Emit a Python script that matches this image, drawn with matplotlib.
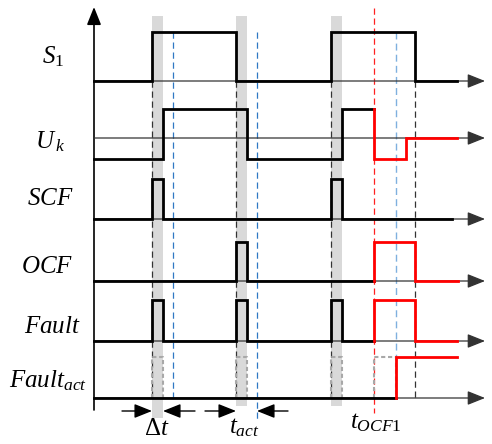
import matplotlib
matplotlib.use("Agg")
import matplotlib.pyplot as plt

plt.rcParams['mathtext.fontset'] = 'custom'
plt.rcParams['mathtext.rm'] = 'Liberation Serif'
plt.rcParams['mathtext.it'] = 'Liberation Serif:italic'
plt.rcParams['mathtext.bf'] = 'Liberation Serif:bold'

# ---- timing (time units along the horizontal axes) ----
s1_t = [0, 58, 142, 237, 321, 363]
s1_v = [0, 1, 0, 1, 0, 0]

uk_t = [0, 69, 153, 248, 280]
uk_v = [-0.72, 1, -0.72, 1, 1]
uk_fault_t = [280, 280, 312, 363]
uk_fault_v = [1, -0.72, 0, 0]

scf_t = [0, 58, 69, 237, 248, 358]
scf_v = [0, 1, 0, 1, 0, 0]

ocf_t = [0, 142, 153, 280]
ocf_v = [0, 1, 0, 0]
ocf_fault_t = [280, 280, 321, 364]
ocf_fault_v = [0, 1, 0, 0]

fault_t = [0, 58, 69, 142, 153, 237, 248, 280]
fault_v = [0, 1, 0, 1, 0, 1, 0, 0]
fault_red_t = [280, 280, 321, 363]
fault_red_v = [0, 1, 0, 0]

fact_t = [0, 302]
fact_v = [0, 0]
fact_red_t = [302, 302, 363]
fact_red_v = [0, 1, 1]

# blanking windows (Delta t) and the delayed-action window
dead_windows = [(58, 69), (142, 153), (237, 248)]
act_windows = [(58, 69), (142, 153), (237, 248), (280, 302)]

t_detect = [79, 163, 302]      # blue markers (end of t_act)
t_edges = [58, 142, 237, 321]  # switching edges
t_ocf1 = 280
t_end = 391                    # tip of the time axes

# channel layout: (baseline, amplitude)
chan = {
    'S1': (81, 49),
    'Uk': (138, 29),
    'SCF': (219, 40),
    'OCF': (281, 39),
    'Fault': (341, 41),
    'Fact': (398, 41),
}
labels = [('S1', r'$S_1$', -41, 63),
          ('Uk', r'$U_{\,k}$', -44, 148),
          ('SCF', r'$SCF$', -44, 205),
          ('OCF', r'$OCF$', -47, 273),
          ('Fault', r'$Fault$', -42, 333),
          ('Fact', r'$Fault_{act}$', -46, 387)]

fig = plt.figure(figsize=(4.92, 4.44), dpi=100)
ax = fig.add_axes([0, 0, 1, 1])
ax.set_xlim(-94, 398)
ax.set_ylim(444, 0)
ax.axis('off')


def ylev(name, v):
    b, a = chan[name]
    return [b - a * x for x in v]


head = '-|>,head_length=0.45,head_width=0.18'

# shaded windows
for i, (a, b) in enumerate(dead_windows):
    ax.axvspan(a, b, ymin=1 - 418 / 444 if i == 0 else 1 - 406 / 444,
               ymax=1 - 16 / 444, color='#d9d9d9', lw=0, zorder=0)

# vertical axis
ax.annotate('', xy=(0, 7), xytext=(0, 410),
            arrowprops=dict(arrowstyle=head, color='black', lw=1.2,
                            mutation_scale=24, shrinkA=0, shrinkB=0))

# horizontal axes
for name, (b, a) in chan.items():
    ax.annotate('', xy=(t_end, b), xytext=(0, b),
                arrowprops=dict(arrowstyle=head, color='#333333', lw=0.9,
                                mutation_scale=24, shrinkA=0, shrinkB=0))

# edge guide lines
for t in t_edges:
    ax.plot([t, t], [81, 398], color='#333333', lw=0.9, ls=(0, (5, 3)), zorder=1)
ax.plot([t_detect[0]] * 2, [32, 400], color='#2f78c4', lw=0.9, ls=(0, (5, 3)), zorder=1)
ax.plot([t_detect[1]] * 2, [32, 420], color='#2f78c4', lw=0.9, ls=(0, (5, 3)), zorder=1)
ax.plot([t_detect[2]] * 2, [32, 398], color='#7fb0df', lw=1.0, ls=(0, (5, 3)), zorder=1)
ax.plot([t_ocf1] * 2, [8, 413], color='#ff2020', lw=0.9, ls=(0, (5, 3)), zorder=1)

# dotted windows on Fault_act
b, a = chan['Fact']
for (x0, x1) in act_windows:
    ax.plot([x0, x0, x1, x1], [b, b - a, b - a, b], color='#a8a8a8', lw=1.5,
            ls=(0, (2, 1.3)), zorder=2)

sig = dict(lw=2.0, drawstyle='steps-post', zorder=4, solid_joinstyle='miter')
ax.plot(s1_t, ylev('S1', s1_v), color='black', **sig)
ax.plot(uk_t, ylev('Uk', uk_v), color='black', **sig)
ax.plot(uk_fault_t, ylev('Uk', uk_fault_v), color='#ff0000', **sig)
ax.plot(scf_t, ylev('SCF', scf_v), color='black', **sig)
ax.plot(ocf_t, ylev('OCF', ocf_v), color='black', **sig)
ax.plot(ocf_fault_t, ylev('OCF', ocf_fault_v), color='#ff0000', **sig)
ax.plot(fault_t, ylev('Fault', fault_v), color='black', **sig)
ax.plot(fault_red_t, ylev('Fault', fault_red_v), color='#ff0000', **sig)
ax.plot(fact_t, ylev('Fact', fact_v), color='black', **sig)
ax.plot(fact_red_t, ylev('Fact', fact_red_v), color='#ff0000', **sig)

# interval arrows
arr = dict(arrowstyle=head, color='black', lw=1.0, mutation_scale=24,
           shrinkA=0, shrinkB=0)
ax.annotate('', xy=(58, 411), xytext=(28, 411), arrowprops=arr)
ax.annotate('', xy=(69, 411), xytext=(101, 411), arrowprops=arr)
ax.annotate('', xy=(142, 411), xytext=(111, 411), arrowprops=arr)
ax.annotate('', xy=(163, 411), xytext=(194, 411), arrowprops=arr)

# labels
for key, txt, x, y in labels:
    ax.text(x, y, txt, fontsize=18, ha='center', va='baseline')
ax.text(63, 435, r'$\Delta t$', fontsize=18, ha='center', va='baseline')
ax.text(150, 433, r'$t_{act}$', fontsize=18, ha='center', va='baseline')
ax.text(282, 428, r'$t_{OCF\mathrm{1}}$', fontsize=18, ha='center', va='baseline')

fig.savefig('out.png', dpi=100)
